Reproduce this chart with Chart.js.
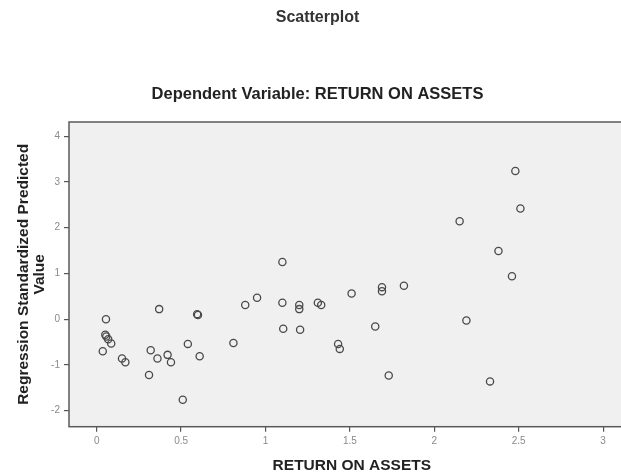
<!DOCTYPE html>
<html lang="en">
<head>
  <meta charset="UTF-8">
  <title>Scatterplot</title>
  <script src="https://cdn.jsdelivr.net/npm/chart.js"></script>
  <style>
    html, body {
      margin: 0;
      padding: 0;
      background: #fff;
      overflow: hidden;
    }
    #chart {
      display: block;
    }
  </style>
</head>
<body>
  <canvas id="chart" width="640" height="474"></canvas>
  <script>
    // RETURN ON ASSETS (x) vs Regression Standardized Predicted Value (y)
    const roaValues = [
      2.48, 2.51, 2.15, 2.38, 2.46, 1.10, 1.82, 1.69, 1.69, 1.51,
      0.95, 0.88, 1.10, 1.20, 1.20, 1.31, 1.33, 0.37, 0.595, 0.60,
      0.055, 2.19, 1.65, 1.105, 1.205, 0.051, 0.057, 0.068, 0.086, 0.036,
      1.43, 1.44, 0.81, 0.54, 0.32, 0.42, 0.36, 0.44, 0.61, 0.15,
      0.17, 0.31, 1.73, 2.33, 0.51
    ];
    const predictedValues = [
      3.24, 2.42, 2.14, 1.49, 0.94, 1.25, 0.73, 0.70, 0.61, 0.56,
      0.47, 0.31, 0.36, 0.31, 0.22, 0.36, 0.31, 0.22, 0.11, 0.09,
      0.00, -0.03, -0.16, -0.21, -0.23, -0.34, -0.38, -0.44, -0.53, -0.70,
      -0.54, -0.65, -0.52, -0.54, -0.68, -0.78, -0.86, -0.94, -0.81, -0.86,
      -0.94, -1.22, -1.23, -1.36, -1.76
    ];
    const xTicks = [0, 0.5, 1, 1.5, 2, 2.5, 3];
    const yTicks = [-2, -1, 0, 1, 2, 3, 4];

    const fontFamily = '"Liberation Sans", Arial, sans-serif';

    // grey plot background and dark frame
    const plotFrame = {
      id: 'plotFrame',
      beforeDraw(chart) {
        const { ctx, chartArea: a } = chart;
        ctx.save();
        ctx.fillStyle = '#f0f0f0';
        ctx.fillRect(a.left, a.top, a.right - a.left, a.bottom - a.top);
        ctx.restore();
      },
      afterDraw(chart) {
        const { ctx, chartArea: a } = chart;
        ctx.save();
        ctx.strokeStyle = '#5a5a5a';
        ctx.lineWidth = 1.5;
        ctx.strokeRect(a.left, a.top, a.right - a.left, a.bottom - a.top);
        ctx.restore();
      }
    };

    const points = roaValues.map((x, i) => ({ x: x, y: predictedValues[i] }));

    new Chart(document.getElementById('chart'), {
      type: 'scatter',
      data: {
        datasets: [{
          data: points,
          pointStyle: 'circle',
          pointRadius: 3.6,
          pointBorderWidth: 1.3,
          borderColor: '#4a4a4a',
          backgroundColor: 'rgba(0,0,0,0)'
        }]
      },
      options: {
        responsive: false,
        animation: false,
        devicePixelRatio: 1,
        layout: {
          padding: { left: 0, right: 5, top: 0, bottom: 0 }
        },
        plugins: {
          legend: { display: false },
          tooltip: { enabled: false },
          title: {
            display: true,
            text: 'Scatterplot',
            color: '#333',
            font: { family: fontFamily, size: 16, weight: 'bold', lineHeight: 1.2 },
            padding: { top: 8, bottom: 40 }
          },
          subtitle: {
            display: true,
            text: 'Dependent Variable: RETURN ON ASSETS',
            color: '#222',
            font: { family: fontFamily, size: 16.5, weight: 'bold', lineHeight: 1.2 },
            padding: { top: 17, bottom: 18 }
          }
        },
        scales: {
          x: {
            type: 'linear',
            min: -0.164,
            max: 3.187,
            afterBuildTicks: (scale) => { scale.ticks = xTicks.map(v => ({ value: v })); },
            afterFit: (scale) => { scale.height = 47.3; },
            border: { display: false },
            grid: {
              drawOnChartArea: false,
              drawTicks: true,
              tickLength: 5,
              color: '#555',
              lineWidth: 1.2
            },
            ticks: {
              padding: 4,
              color: '#8a8a8a',
              font: { family: fontFamily, size: 10 },
              callback: (v) => String(v)
            },
            title: {
              display: true,
              text: 'RETURN ON ASSETS',
              color: '#222',
              font: { family: fontFamily, size: 15.5, weight: 'bold', lineHeight: 1.1 },
              padding: { top: 0, bottom: 0 }
            }
          },
          y: {
            type: 'linear',
            min: -2.35,
            max: 4.31,
            afterBuildTicks: (scale) => { scale.ticks = yTicks.map(v => ({ value: v })); },
            afterFit: (scale) => { scale.width = 69; },
            border: { display: false },
            grid: {
              drawOnChartArea: false,
              drawTicks: true,
              tickLength: 5,
              color: '#555',
              lineWidth: 1.2
            },
            ticks: {
              padding: 4,
              color: '#8a8a8a',
              font: { family: fontFamily, size: 10 }
            },
            title: {
              display: true,
              text: ['Regression Standardized Predicted', 'Value'],
              color: '#222',
              font: { family: fontFamily, size: 15.5, weight: 'bold', lineHeight: 1.08 },
              padding: { top: 15, bottom: 0 }
            }
          }
        }
      },
      plugins: [plotFrame]
    });
  </script>
</body>
</html>
